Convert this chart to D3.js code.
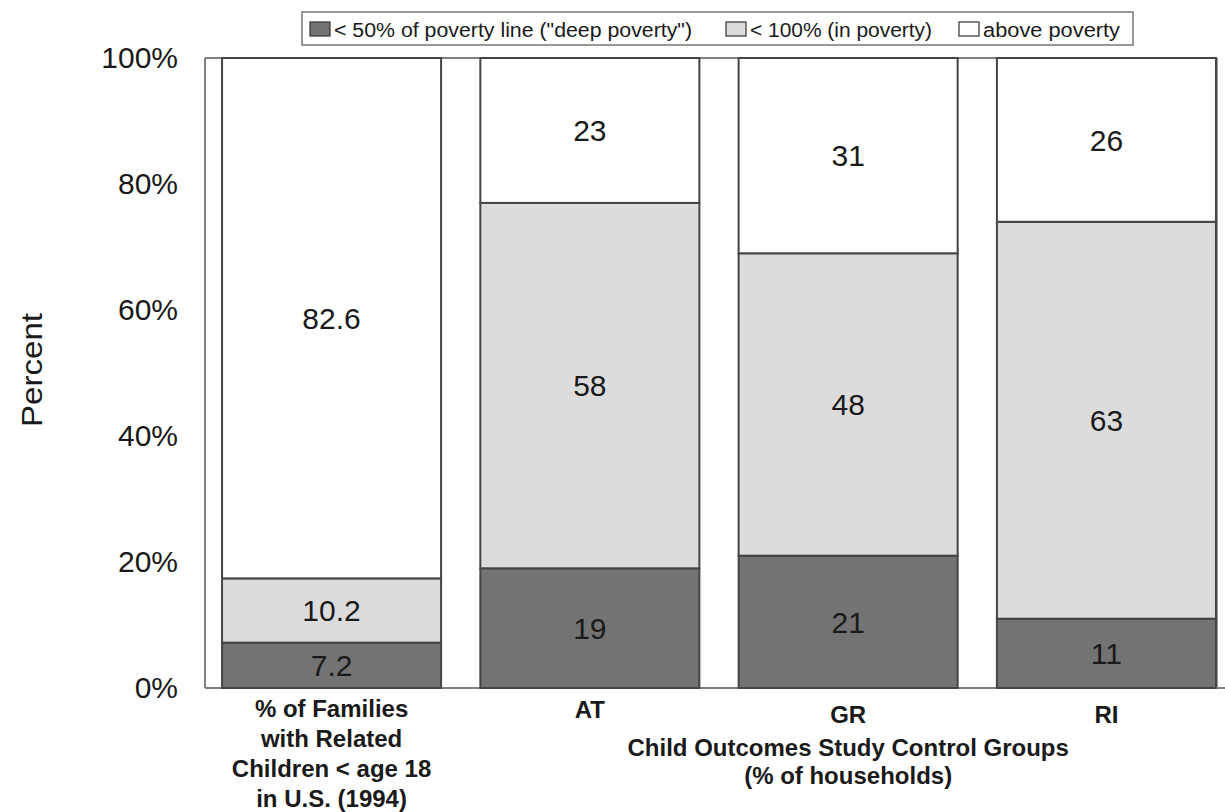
<!DOCTYPE html>
<html>
<head>
<meta charset="utf-8">
<script src="https://cdn.jsdelivr.net/npm/d3@7"></script>
<style>
  html, body { margin: 0; padding: 0; background: #fff; }
  svg { display: block; }
  text { font-family: "Liberation Sans", Arial, sans-serif; fill: #1a1a1a; }
</style>
</head>
<body>
<svg id="chart" width="1225" height="812"></svg>
<script>
// Poverty status by group (percent of families / households)
const categories = ["US", "AT", "GR", "RI"];
const deepPoverty = [7.2, 19, 21, 11];      // < 50% of poverty line
const inPoverty = [10.2, 58, 48, 63];       // 50–100% of poverty line
const abovePoverty = [82.6, 23, 31, 26];    // above poverty
const seriesNames = ["< 50% of poverty line (\"deep poverty\")", "< 100% (in poverty)", "above poverty"];
const seriesKeys = ["deep", "inpov", "above"];
const seriesColors = ["#737373", "#dcdcdc", "#ffffff"];
const yTicks = [0, 20, 40, 60, 80, 100];
const usLabel = ["% of Families", "with Related", "Children < age 18", "in U.S. (1994)"];
const groupTitle = ["Child Outcomes Study Control Groups", "(% of households)"];

const rows = categories.map((c, i) => ({
  cat: c, deep: deepPoverty[i], inpov: inPoverty[i], above: abovePoverty[i]
}));

const svg = d3.select("#chart");
const plot = { left: 205, top: 58, bottom: 688, right: 1217 };

const x = d3.scaleBand()
  .domain(categories)
  .range([plot.left, 1233])
  .paddingInner(0.152)
  .paddingOuter(0.066);

const y = d3.scaleLinear().domain([0, 100]).range([plot.bottom, plot.top]);

// plot frame
svg.append("line").attr("x1", plot.left).attr("x2", 1225).attr("y1", plot.bottom).attr("y2", plot.bottom)
  .attr("stroke", "#808080").attr("stroke-width", 2);
svg.append("line").attr("x1", plot.left).attr("x2", plot.right).attr("y1", plot.top).attr("y2", plot.top)
  .attr("stroke", "#808080").attr("stroke-width", 2);
svg.append("line").attr("x1", plot.left).attr("x2", plot.left).attr("y1", plot.top).attr("y2", plot.bottom)
  .attr("stroke", "#808080").attr("stroke-width", 2);
svg.append("line").attr("x1", plot.right).attr("x2", plot.right).attr("y1", plot.top).attr("y2", plot.bottom)
  .attr("stroke", "#9a9a9a").attr("stroke-width", 2);

// y axis
const yAxis = svg.append("g")
  .attr("transform", `translate(${plot.left},0)`)
  .call(d3.axisLeft(y).tickValues(yTicks).tickFormat(d => d + "%").tickSize(0).tickPadding(27));
yAxis.select(".domain").remove();
yAxis.selectAll("text")
  .style("font-family", "'Liberation Sans', Arial, sans-serif")
  .style("font-size", "30px").attr("fill", "#1a1a1a");

svg.append("text")
  .attr("transform", "translate(42,370) rotate(-90)")
  .attr("text-anchor", "middle")
  .style("font-size", "30px")
  .attr("textLength", 114)
  .attr("lengthAdjust", "spacingAndGlyphs")
  .text("Percent");

// stacked bars
const stack = d3.stack().keys(seriesKeys)(rows);
const layers = svg.append("g").selectAll("g")
  .data(stack).join("g")
  .attr("fill", (d, i) => seriesColors[i]);

layers.selectAll("rect")
  .data(d => d.map(s => ({ s, cat: s.data.cat })))
  .join("rect")
  .attr("x", d => x(d.cat))
  .attr("width", x.bandwidth())
  .attr("y", d => y(d.s[1]))
  .attr("height", d => y(d.s[0]) - y(d.s[1]))
  .attr("stroke", "#454545")
  .attr("stroke-width", 2);

// value labels
stack.forEach((layer, li) => {
  svg.append("g").selectAll("text")
    .data(layer).join("text")
    .attr("x", d => x(d.data.cat) + x.bandwidth() / 2)
    .attr("y", d => (y(d[0]) + y(d[1])) / 2)
    .attr("dy", "0.36em")
    .attr("text-anchor", "middle")
    .style("font-size", "30px")
    .text(d => d.data[seriesKeys[li]]);
});

// category labels
const usCenter = x("US") + x.bandwidth() / 2;
svg.append("text")
  .attr("text-anchor", "middle")
  .style("font-size", "24px").style("font-weight", "bold")
  .selectAll("tspan").data(usLabel).join("tspan")
  .attr("x", usCenter)
  .attr("y", (d, i) => 717 + i * 30)
  .text(d => d);

svg.append("g").selectAll("text")
  .data(categories.slice(1)).join("text")
  .attr("x", d => x(d) + x.bandwidth() / 2)
  .attr("y", (d, i) => i === 0 ? 718 : 723)
  .attr("text-anchor", "middle")
  .style("font-size", "24px").style("font-weight", "bold")
  .text(d => d);

svg.append("text")
  .attr("text-anchor", "middle")
  .style("font-size", "24px").style("font-weight", "bold")
  .selectAll("tspan").data(groupTitle).join("tspan")
  .attr("x", x("GR") + x.bandwidth() / 2)
  .attr("y", (d, i) => 756 + i * 28)
  .text(d => d);

// legend
const legend = svg.append("g");
legend.append("rect")
  .attr("x", 302).attr("y", 12).attr("width", 831).attr("height", 33)
  .attr("fill", "#fff").attr("stroke", "#777").attr("stroke-width", 1.5);
const legendX = [310, 726, 959];
const legendLen = [358, 182, 137];
seriesNames.forEach((name, i) => {
  legend.append("rect")
    .attr("x", legendX[i]).attr("y", 22).attr("width", 20).attr("height", 14)
    .attr("fill", seriesColors[i]).attr("stroke", "#333").attr("stroke-width", 1.2);
  legend.append("text")
    .attr("x", legendX[i] + 24).attr("y", 37)
    .style("font-size", "20px")
    .attr("fill", "#333")
    .attr("textLength", legendLen[i])
    .attr("lengthAdjust", "spacingAndGlyphs")
    .text(name);
});
</script>
</body>
</html>
